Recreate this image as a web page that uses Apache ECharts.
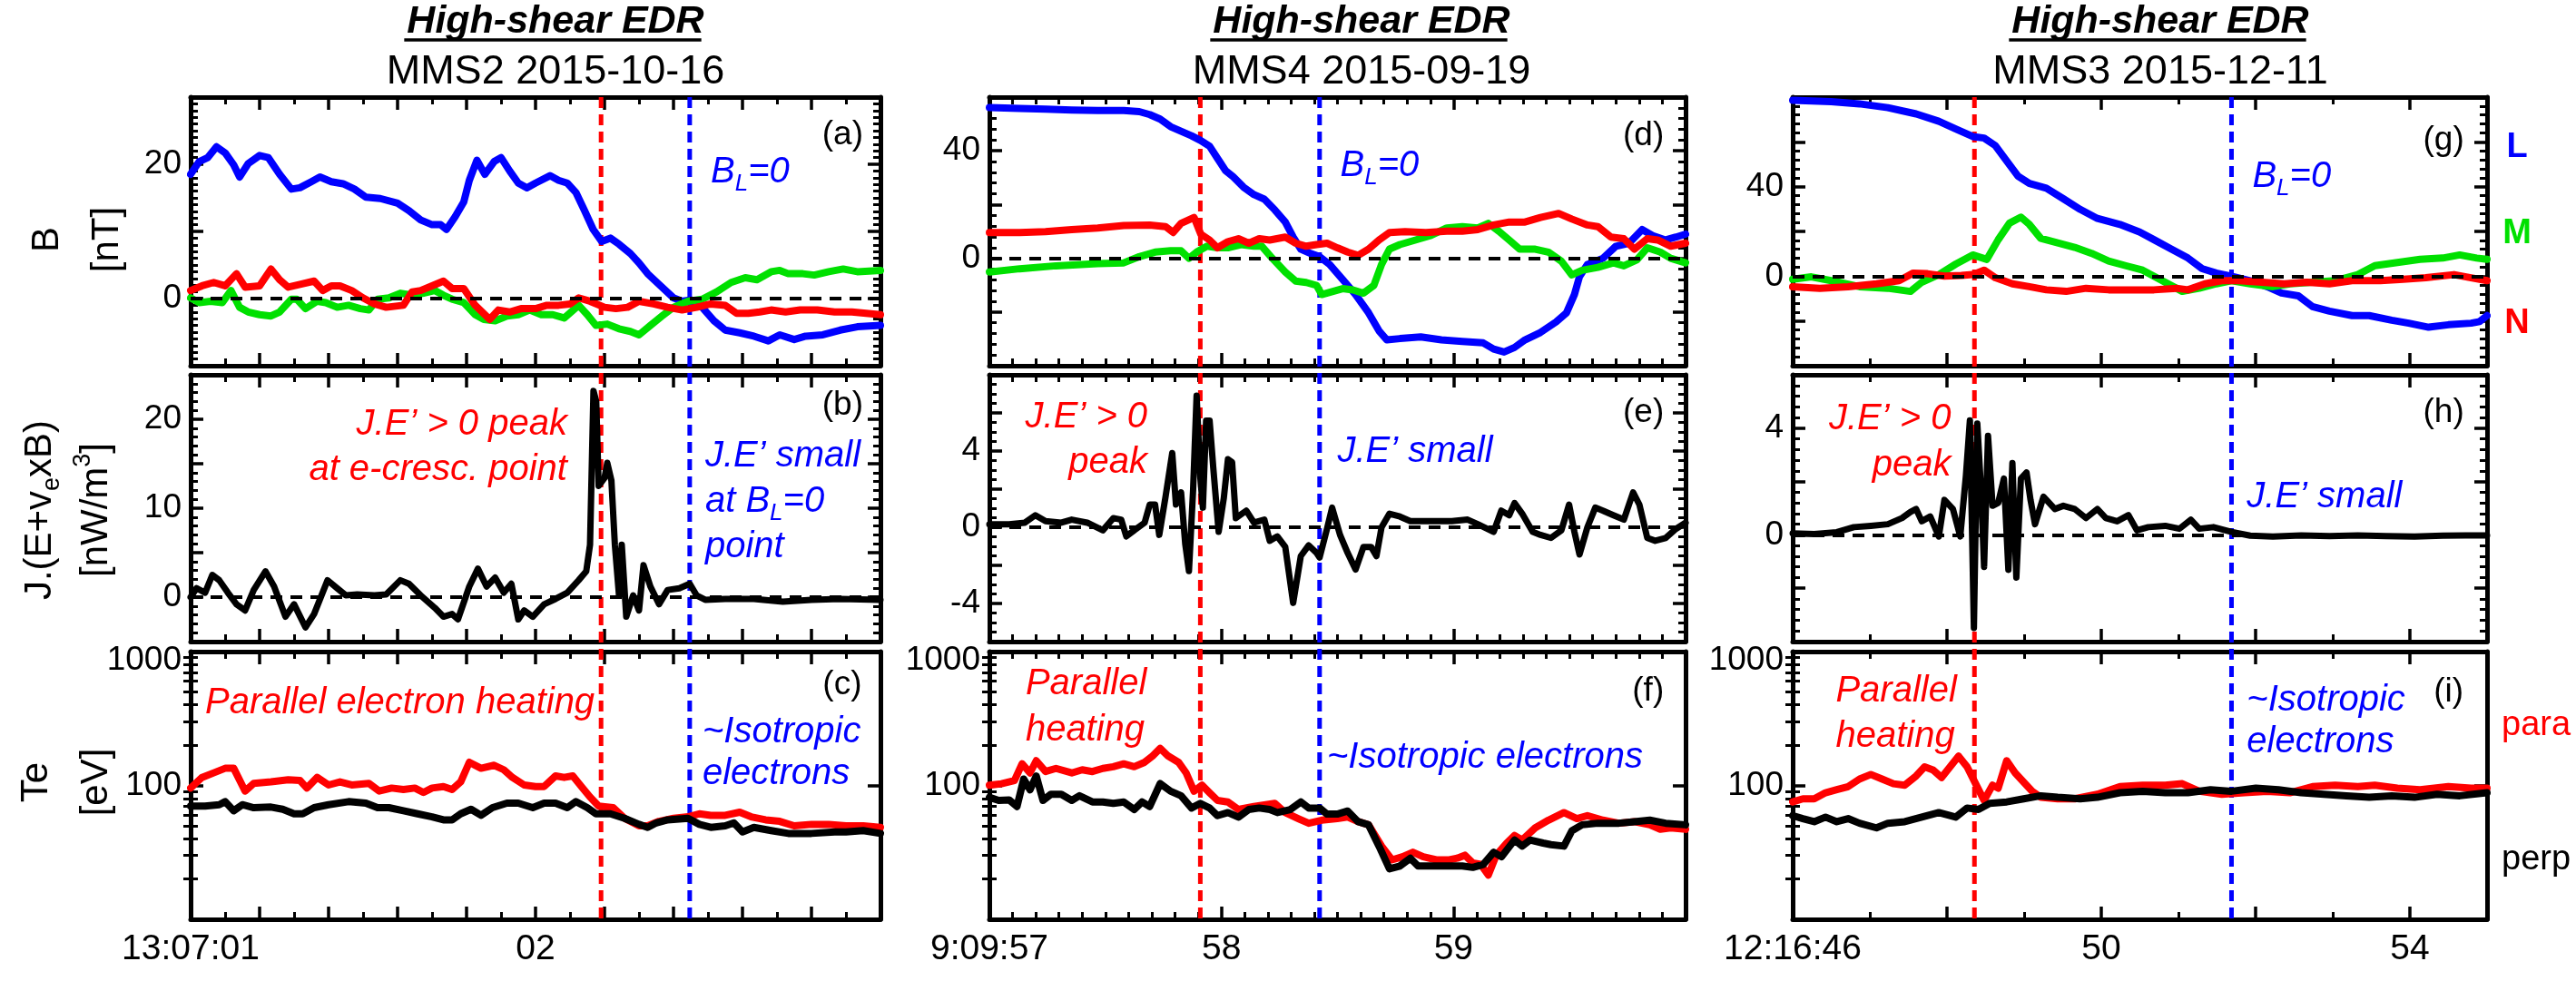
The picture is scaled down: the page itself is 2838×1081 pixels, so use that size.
<!DOCTYPE html>
<html><head><meta charset="utf-8">
<script src="https://cdn.jsdelivr.net/npm/echarts@6/dist/echarts.min.js"></script>
<style>html,body{margin:0;padding:0;background:#fff}#c{width:2838px;height:1081px}</style>
</head><body><div id="c"></div>
<script>
// ---------------- DATA (time in s from left tick) ----------------
// Column tick labels
const col1TickVals = [0, 1];       const col1TickLabels = ['13:07:01', '02'];
const col2TickVals = [0, 1, 2];    const col2TickLabels = ['9:09:57', '58', '59'];
const col3TickVals = [0, 4, 8];    const col3TickLabels = ['12:16:46', '50', '54'];
// vertical marker times [red, blue]
const col1Marks = [1.19, 1.447];
const col2Marks = [0.909, 1.423];
const col3Marks = [2.356, 5.688];
// y label values
const labelsA = [0, 20], labelsB = [0, 10, 20], labelsTe = [100, 1000];
const labelsD = [0, 40], labelsE = [-4, 0, 4], labelsG = [0, 40], labelsH = [0, 4];
const teMajor = [10, 100, 1000];
const teMinor = [20,30,40,50,60,70,80,90,200,300,400,500,600,700,800,900];

// Panel a: B (nT)
const aL = [[0,18.5],[0.025,20.4],[0.05,21.0],[0.075,22.6],[0.1,21.7],[0.125,19.9],[0.142,18.1],[0.167,20.1],[0.2,21.3],[0.225,21.0],[0.258,18.5],[0.292,16.3],[0.317,16.5],[0.35,17.4],[0.375,18.1],[0.408,17.4],[0.442,17.1],[0.475,16.3],[0.508,15.1],[0.55,14.9],[0.6,14.2],[0.633,13.1],[0.667,11.7],[0.7,11.0],[0.725,11.0],[0.742,10.3],[0.767,12.2],[0.792,14.4],[0.808,17.6],[0.83,20.6],[0.853,18.5],[0.88,20.4],[0.9,21.0],[0.925,19.0],[0.95,17.2],[0.975,16.5],[1.0,17.2],[1.042,18.3],[1.067,17.6],[1.092,17.2],[1.117,15.8],[1.142,13.1],[1.167,10.3],[1.192,8.5],[1.217,9.0],[1.242,8.1],[1.275,6.7],[1.3,5.3],[1.325,3.7],[1.358,2.1],[1.4,0.1],[1.425,-0.4],[1.45,-0.2],[1.483,-1.3],[1.517,-3.3],[1.55,-4.7],[1.592,-5.1],[1.633,-5.6],[1.675,-6.3],[1.708,-5.4],[1.75,-6.1],[1.783,-5.6],[1.833,-5.4],[1.883,-4.7],[1.933,-4.2],[2.0,-4.0]];
const aM = [[0,0.1],[0.025,-0.6],[0.058,-0.4],[0.092,-0.6],[0.117,1.2],[0.142,-1.3],[0.167,-2.0],[0.2,-2.4],[0.233,-2.6],[0.258,-2.0],[0.292,-0.1],[0.308,-0.1],[0.333,-1.5],[0.367,-0.4],[0.392,-0.6],[0.425,-1.3],[0.458,-1.0],[0.492,-1.5],[0.517,-1.7],[0.542,-0.1],[0.575,0.1],[0.608,0.8],[0.642,0.5],[0.675,0.8],[0.708,1.2],[0.733,0.5],[0.758,-0.1],[0.792,-0.6],[0.825,-2.4],[0.85,-3.1],[0.883,-3.3],[0.917,-2.6],[0.95,-2.4],[0.983,-1.7],[1.017,-2.4],[1.05,-2.4],[1.083,-2.9],[1.125,-1.0],[1.15,-2.4],[1.175,-4.0],[1.208,-3.8],[1.242,-4.5],[1.275,-4.9],[1.3,-5.4],[1.333,-4.0],[1.367,-2.6],[1.4,-1.3],[1.442,-0.4],[1.483,-0.1],[1.525,1.0],[1.567,2.4],[1.608,3.1],[1.642,2.8],[1.683,4.0],[1.708,4.2],[1.733,3.7],[1.775,3.7],[1.808,3.5],[1.85,4.0],[1.892,4.4],[1.933,4.0],[2.0,4.2]];
const aN = [[0,1.2],[0.033,1.9],[0.067,2.4],[0.1,1.9],[0.133,3.7],[0.158,1.7],[0.2,1.9],[0.233,4.4],[0.258,2.8],[0.283,1.7],[0.317,2.1],[0.358,2.6],[0.383,1.2],[0.408,1.9],[0.433,1.9],[0.467,1.2],[0.5,0.1],[0.533,-0.8],[0.567,-1.3],[0.617,-1.0],[0.642,1.0],[0.667,1.2],[0.7,1.9],[0.733,2.6],[0.758,1.5],[0.792,1.5],[0.825,-1.0],[0.867,-3.1],[0.892,-1.7],[0.925,-2.0],[0.958,-1.5],[1.0,-1.5],[1.033,-1.0],[1.067,-1.0],[1.1,-0.8],[1.125,0.1],[1.158,-0.4],[1.2,-1.3],[1.233,-1.5],[1.267,-1.3],[1.3,-0.4],[1.342,-0.8],[1.383,-1.3],[1.425,-1.7],[1.467,-1.3],[1.508,-0.8],[1.55,-1.0],[1.583,-2.2],[1.617,-2.2],[1.65,-2.0],[1.683,-1.7],[1.725,-2.0],[1.767,-1.7],[1.817,-1.7],[1.867,-2.0],[1.917,-2.0],[2.0,-2.4]];
// Panel b: J.E' (nW/m^3)
const bJ = [[0,0],[0.017,1.0],[0.042,0.5],[0.063,2.5],[0.083,1.9],[0.108,0.5],[0.133,-0.8],[0.158,-1.5],[0.183,0.8],[0.217,2.9],[0.242,1.2],[0.275,-2.2],[0.3,-0.8],[0.333,-3.4],[0.358,-1.9],[0.397,1.9],[0.425,1.0],[0.45,0.2],[0.483,0.3],[0.533,0.2],[0.567,0.3],[0.608,1.9],[0.633,1.5],[0.667,0.2],[0.708,-1.2],[0.733,-2.2],[0.758,-1.9],[0.775,-2.5],[0.808,1.2],[0.833,3.2],[0.858,1.2],[0.883,2.2],[0.908,0.5],[0.93,1.5],[0.95,-2.5],[0.967,-1.5],[0.992,-2.2],[1.025,-0.8],[1.058,-0.2],[1.092,0.5],[1.125,1.9],[1.147,2.9],[1.158,5.9],[1.168,23.2],[1.176,22.0],[1.183,12.5],[1.2,13.4],[1.208,15.1],[1.22,13.1],[1.23,5.9],[1.242,0.2],[1.25,5.9],[1.263,-2.2],[1.283,0.2],[1.3,-1.5],[1.313,3.6],[1.333,1.2],[1.358,-0.8],[1.383,0.8],[1.417,1.0],[1.447,1.5],[1.467,0.2],[1.492,-0.3],[1.55,-0.2],[1.633,-0.2],[1.717,-0.5],[1.8,-0.3],[1.883,-0.2],[2.0,-0.3]];
// Panel c: Te (eV)
const cPara = [[0,95.6],[0.033,114.8],[0.067,124.2],[0.1,134.3],[0.125,134.3],[0.158,90.8],[0.183,103.5],[0.233,106.3],[0.283,110.1],[0.317,108.9],[0.337,95.6],[0.367,114.8],[0.4,100.8],[0.433,106.3],[0.467,100.8],[0.517,103.5],[0.547,90.8],[0.583,95.6],[0.617,93.2],[0.65,95.6],[0.675,88.5],[0.7,95.6],[0.733,98.2],[0.758,93.2],[0.783,106.3],[0.808,148.9],[0.842,134.3],[0.88,141.5],[0.908,130.9],[0.933,114.8],[0.967,100.8],[1.0,98.2],[1.025,98.2],[1.058,117.8],[1.083,114.8],[1.108,117.8],[1.133,98.2],[1.158,81.9],[1.183,70.0],[1.225,68.2],[1.258,56.8],[1.3,49.9],[1.325,49.9],[1.358,53.9],[1.4,56.8],[1.442,58.3],[1.475,61.4],[1.508,59.8],[1.55,59.8],[1.592,63.1],[1.625,58.3],[1.667,55.3],[1.708,53.9],[1.75,49.9],[1.8,51.2],[1.85,51.2],[1.9,49.9],[1.95,49.9],[2.0,48.6]];
const cPerp = [[0,70.0],[0.042,70.0],[0.083,71.8],[0.1,75.7],[0.125,64.7],[0.15,71.8],[0.183,68.2],[0.233,68.9],[0.267,66.4],[0.3,61.4],[0.325,61.4],[0.358,68.2],[0.4,71.8],[0.458,75.7],[0.508,73.8],[0.542,68.2],[0.575,68.2],[0.617,64.7],[0.658,61.4],[0.7,58.3],[0.733,55.3],[0.758,55.3],[0.783,61.4],[0.813,66.4],[0.842,59.8],[0.875,68.2],[0.917,73.8],[0.95,73.8],[0.992,68.2],[1.025,73.8],[1.058,73.8],[1.092,68.2],[1.117,75.7],[1.15,68.2],[1.175,61.4],[1.217,61.4],[1.258,56.8],[1.3,51.2],[1.325,48.6],[1.35,52.5],[1.383,55.3],[1.442,56.8],[1.475,51.2],[1.508,48.6],[1.55,49.9],[1.575,52.5],[1.6,44.9],[1.633,48.6],[1.683,46.0],[1.733,43.8],[1.8,43.8],[1.867,44.9],[1.9,44.9],[1.95,46.0],[2.0,43.8]];
// Panel d
const dL = [[0,56.1],[0.13,55.8],[0.242,55.5],[0.355,55.2],[0.467,55.0],[0.579,55.0],[0.646,54.6],[0.691,53.5],[0.736,51.8],[0.781,49.0],[0.826,47.3],[0.871,45.6],[0.909,43.9],[0.949,41.7],[0.983,37.2],[1.017,32.7],[1.05,30.4],[1.095,26.5],[1.14,23.7],[1.185,22.0],[1.23,18.0],[1.275,13.5],[1.309,7.9],[1.342,3.4],[1.387,1.7],[1.423,0.6],[1.466,-2.3],[1.522,-7.9],[1.578,-13.5],[1.634,-20.3],[1.679,-27.0],[1.713,-30.4],[1.769,-29.9],[1.859,-29.3],[1.948,-30.4],[2.038,-31.0],[2.128,-31.5],[2.173,-33.8],[2.218,-34.9],[2.263,-33.2],[2.308,-30.4],[2.375,-27.6],[2.442,-23.7],[2.487,-20.3],[2.521,-13.5],[2.543,-6.8],[2.577,-2.3],[2.644,0.0],[2.7,4.5],[2.756,5.6],[2.813,10.7],[2.857,8.5],[2.914,6.8],[2.959,7.9],[3.0,9.0]];
const dM = [[0,-5.1],[0.13,-3.9],[0.287,-2.8],[0.467,-2.0],[0.579,-1.7],[0.646,0.6],[0.714,2.3],[0.781,2.8],[0.826,2.8],[0.86,0.0],[0.893,2.3],[0.938,4.5],[0.983,3.9],[1.028,3.9],[1.084,5.1],[1.14,4.5],[1.174,4.5],[1.219,0.0],[1.275,-5.1],[1.32,-8.5],[1.365,-9.0],[1.41,-10.1],[1.432,-13.5],[1.477,-12.4],[1.522,-11.3],[1.567,-11.8],[1.612,-13.0],[1.657,-10.1],[1.69,-2.3],[1.724,3.4],[1.769,5.1],[1.836,6.8],[1.903,8.5],[1.971,11.3],[2.038,11.8],[2.105,11.3],[2.15,13.0],[2.195,10.1],[2.24,6.8],[2.285,3.4],[2.352,3.4],[2.409,2.3],[2.465,-1.1],[2.51,-6.2],[2.554,-4.5],[2.622,-3.4],[2.689,-1.7],[2.734,-2.8],[2.79,-0.6],[2.835,3.9],[2.891,2.3],[2.936,0.0],[3.0,-1.7]];
const dN = [[0,9.6],[0.13,9.6],[0.242,9.9],[0.355,10.7],[0.467,11.3],[0.579,12.2],[0.691,12.4],[0.759,11.8],[0.792,9.6],[0.826,13.0],[0.882,15.2],[0.911,9.0],[0.949,6.8],[0.983,3.9],[1.028,6.2],[1.073,7.3],[1.118,5.6],[1.163,7.3],[1.208,6.8],[1.275,7.9],[1.32,5.6],[1.365,4.5],[1.41,5.1],[1.455,5.6],[1.499,3.9],[1.544,2.3],[1.589,1.1],[1.634,3.4],[1.679,6.8],[1.724,9.6],[1.791,9.9],[1.881,9.6],[1.971,10.1],[2.038,10.1],[2.105,10.7],[2.173,12.4],[2.24,13.5],[2.308,13.5],[2.375,15.2],[2.453,16.7],[2.51,14.6],[2.577,12.4],[2.622,11.8],[2.678,7.9],[2.734,7.3],[2.779,3.4],[2.835,7.3],[2.88,6.8],[2.936,4.5],[3.0,5.6]];
// Panel e
const eJ = [[0,0.16],[0.085,0.16],[0.153,0.24],[0.198,0.63],[0.242,0.32],[0.31,0.24],[0.355,0.4],[0.422,0.24],[0.489,-0.16],[0.534,0.48],[0.568,0.4],[0.59,-0.48],[0.624,-0.16],[0.669,0.24],[0.691,1.19],[0.714,1.19],[0.732,-0.4],[0.759,1.59],[0.788,3.89],[0.804,1.19],[0.826,1.83],[0.844,-0.87],[0.86,-2.3],[0.878,1.98],[0.893,6.9],[0.909,2.62],[0.92,1.03],[0.934,5.6],[0.949,5.6],[0.965,3.1],[0.988,-0.24],[1.01,1.51],[1.028,3.57],[1.046,3.41],[1.062,0.48],[1.107,0.87],[1.14,0.24],[1.185,0.4],[1.208,-0.71],[1.241,-0.48],[1.275,-1.03],[1.309,-3.97],[1.342,-1.51],[1.376,-0.95],[1.41,-1.35],[1.423,-1.59],[1.455,-0.08],[1.477,1.03],[1.511,-0.4],[1.544,-1.35],[1.578,-2.22],[1.612,-1.03],[1.645,-1.03],[1.668,-1.51],[1.69,0.0],[1.724,0.71],[1.769,0.56],[1.814,0.32],[1.903,0.32],[1.993,0.32],[2.061,0.4],[2.105,0.16],[2.173,-0.24],[2.206,0.87],[2.24,0.63],[2.263,1.27],[2.296,0.71],[2.341,-0.24],[2.375,-0.4],[2.42,-0.56],[2.465,-0.16],[2.498,1.19],[2.521,-0.24],[2.543,-1.43],[2.577,0.0],[2.611,1.03],[2.644,0.87],[2.689,0.63],[2.734,0.4],[2.774,1.83],[2.801,1.19],[2.835,-0.56],[2.869,-0.71],[2.914,-0.56],[2.959,-0.08],[3.0,0.24]];
// Panel f
const fPara = [[0,100.5],[0.052,103],[0.108,108.7],[0.141,145],[0.175,124],[0.202,153],[0.242,127],[0.287,134],[0.355,124],[0.4,131],[0.444,127],[0.489,134],[0.534,138],[0.579,145],[0.624,138],[0.669,149],[0.703,166],[0.736,189],[0.77,166],[0.815,149],[0.848,124],[0.882,90.5],[0.916,100.5],[0.949,88.2],[0.983,77.3],[1.028,75.3],[1.073,66.1],[1.14,69.6],[1.185,71.5],[1.23,73.4],[1.275,62.7],[1.331,56.5],[1.376,52.2],[1.432,55.0],[1.499,56.5],[1.544,58.0],[1.589,53.6],[1.634,50.8],[1.69,35.2],[1.735,27.8],[1.78,29.3],[1.825,31.7],[1.87,29.3],[1.926,27.8],[1.982,27.8],[2.016,28.6],[2.049,30.1],[2.083,26.4],[2.117,25.7],[2.15,21.4],[2.184,30.1],[2.229,37.1],[2.263,42.3],[2.296,39.1],[2.352,48.2],[2.409,55.0],[2.476,62.7],[2.532,56.5],[2.577,59.5],[2.644,55.0],[2.712,52.2],[2.779,53.6],[2.846,50.8],[2.891,47.0],[2.936,48.2],[3.0,47.0]];
const fPerp = [[0,81.5],[0.04,77.3],[0.085,78],[0.119,69.6],[0.148,111.6],[0.175,92.9],[0.202,117.7],[0.231,77.3],[0.265,85.9],[0.31,85.9],[0.355,77.3],[0.388,83.7],[0.444,75.3],[0.489,75.3],[0.534,73.4],[0.579,75.3],[0.624,66.1],[0.658,75.3],[0.691,69.6],[0.736,103.2],[0.781,90.5],[0.826,83.7],[0.871,67.8],[0.909,73.4],[0.949,67.8],[0.983,59.5],[1.028,62.7],[1.073,58.0],[1.118,66.1],[1.163,67.8],[1.208,66.1],[1.241,62.7],[1.297,66.1],[1.342,75.3],[1.376,67.8],[1.423,67.8],[1.455,61.1],[1.499,61.1],[1.544,64.4],[1.589,53.6],[1.634,50.8],[1.679,35.2],[1.724,23.8],[1.769,25.0],[1.814,28.6],[1.847,25.0],[1.903,25.0],[1.971,25.0],[2.038,25.0],[2.083,24.4],[2.128,25.7],[2.173,31.7],[2.207,29.3],[2.263,39.1],[2.296,35.2],[2.33,39.1],[2.386,37.1],[2.42,36.1],[2.476,35.2],[2.51,45.8],[2.554,50.8],[2.622,52.2],[2.712,52.2],[2.779,53.6],[2.846,55.0],[2.914,52.2],[3.0,50.8]];
// Panel g
const gL = [[0,78.6],[0.499,78.0],[0.866,77.0],[1.233,75.3],[1.6,72.5],[1.894,69.2],[2.114,65.8],[2.334,62.4],[2.481,61.7],[2.628,58.3],[2.774,51.5],[2.921,44.7],[3.068,41.4],[3.288,39.3],[3.508,34.6],[3.728,29.8],[3.949,25.8],[4.242,23.1],[4.499,19.7],[4.683,16.3],[4.903,12.2],[5.123,8.1],[5.306,3.4],[5.49,1.4],[5.688,0.0],[5.93,-2.0],[6.15,-4.7],[6.334,-7.5],[6.554,-8.8],[6.738,-13.6],[6.958,-15.6],[7.251,-17.6],[7.472,-17.6],[7.765,-19.7],[7.985,-21.0],[8.242,-22.8],[8.499,-21.7],[8.793,-21.0],[8.903,-20.3],[9.0,-17.6]];
const gM = [[0,-1.4],[0.242,-0.3],[0.499,-2.0],[0.866,-4.7],[1.233,-5.4],[1.527,-6.8],[1.673,-2.7],[1.894,0.7],[2.114,5.4],[2.334,9.5],[2.517,7.5],[2.664,16.3],[2.811,23.7],[2.958,26.4],[3.068,23.1],[3.215,16.9],[3.435,14.9],[3.655,12.9],[3.875,10.2],[4.095,6.8],[4.316,4.7],[4.536,2.7],[4.756,-1.4],[5.05,-6.8],[5.27,-5.4],[5.49,-3.4],[5.688,-2.0],[5.93,-3.4],[6.224,-4.7],[6.444,-3.4],[6.738,-2.7],[7.031,-2.0],[7.325,0.7],[7.545,4.7],[7.838,6.1],[8.132,7.5],[8.426,8.1],[8.646,9.5],[8.866,8.1],[9.0,7.5]];
const gN = [[0,-4.7],[0.352,-5.4],[0.719,-4.7],[1.086,-3.4],[1.38,-2.0],[1.563,1.4],[1.747,1.1],[1.967,0.0],[2.187,0.3],[2.334,0.7],[2.481,2.7],[2.628,-0.7],[2.848,-3.4],[3.068,-4.7],[3.288,-6.1],[3.545,-6.8],[3.802,-5.4],[4.095,-6.1],[4.389,-6.1],[4.683,-6.1],[4.976,-5.4],[5.123,-6.1],[5.343,-3.4],[5.563,-2.0],[5.783,-2.0],[6.077,-2.7],[6.371,-3.4],[6.664,-2.7],[6.958,-3.4],[7.251,-2.0],[7.618,-2.0],[7.912,-1.4],[8.206,-0.7],[8.572,0.7],[8.793,-0.7],[9.0,-2.0]];
// Panel h
const hJ = [[0,0.06],[0.279,0.03],[0.572,0.1],[0.793,0.29],[1.013,0.34],[1.233,0.4],[1.417,0.63],[1.527,0.86],[1.6,0.97],[1.673,0.51],[1.783,0.69],[1.894,-0.06],[1.967,1.31],[2.077,0.97],[2.172,-0.06],[2.246,2.23],[2.297,4.29],[2.349,-3.49],[2.393,4.17],[2.444,1.54],[2.481,-1.2],[2.532,3.71],[2.591,1.09],[2.664,1.2],[2.738,2.11],[2.796,-1.31],[2.848,2.69],[2.899,-1.6],[2.958,2.11],[3.031,2.34],[3.083,1.31],[3.141,0.4],[3.251,1.43],[3.398,0.97],[3.508,1.09],[3.655,0.97],[3.802,0.63],[3.949,0.97],[4.059,0.63],[4.206,0.51],[4.352,0.74],[4.462,0.17],[4.609,0.29],[4.829,0.34],[5.013,0.23],[5.16,0.57],[5.27,0.23],[5.453,0.29],[5.688,0.11],[5.93,-0.03],[6.224,-0.06],[6.591,-0.02],[6.958,-0.05],[7.325,-0.02],[7.692,-0.05],[8.059,-0.06],[8.426,-0.03],[8.719,-0.02],[9.0,-0.02]];
// Panel i
const iPara = [[0,75.3],[0.132,79.4],[0.279,79.4],[0.426,88.2],[0.572,92.9],[0.719,98.0],[0.866,111.6],[1.013,120.8],[1.16,111.6],[1.306,103.0],[1.453,100.5],[1.6,117.7],[1.71,137.7],[1.82,130.6],[1.93,114.6],[2.04,137.7],[2.15,165.5],[2.261,137.7],[2.371,103.0],[2.481,77.3],[2.591,100.5],[2.664,95.4],[2.774,153.0],[2.884,124.0],[3.031,100.5],[3.105,90.5],[3.215,81.5],[3.435,79.4],[3.655,79.4],[3.949,85.9],[4.242,98.0],[4.536,100.5],[4.829,100.5],[5.05,103.0],[5.27,90.5],[5.563,85.9],[5.857,88.2],[6.15,90.5],[6.444,88.2],[6.738,98.0],[7.031,100.5],[7.325,98.0],[7.545,100.5],[7.838,95.4],[8.132,92.9],[8.499,98.0],[8.793,95.4],[9.0,95.4]];
const iPerp = [[0,59.5],[0.132,56.5],[0.279,53.6],[0.426,58.0],[0.572,53.6],[0.719,56.5],[0.866,52.2],[1.086,48.2],[1.233,52.2],[1.453,53.6],[1.673,58.0],[1.894,62.7],[2.114,58.0],[2.261,67.8],[2.407,66.1],[2.554,73.4],[2.774,75.3],[2.994,79.4],[3.215,83.7],[3.435,81.5],[3.728,79.4],[3.949,81.5],[4.242,88.2],[4.536,90.5],[4.829,88.2],[5.123,88.2],[5.416,92.9],[5.688,90.5],[6.004,95.4],[6.297,92.9],[6.591,88.2],[6.884,85.9],[7.178,83.7],[7.472,81.5],[7.765,83.7],[8.059,81.5],[8.352,85.9],[8.646,83.7],[9.0,88.2]];

// ---------------- LAYOUT / STYLE ----------------
const FONT = 'Liberation Sans';
const BLUE = '#0000ff', GREEN = '#00e000', RED = '#ff0000', BLACK = '#000000';
const COLS = [{left: 210, width: 760}, {left: 1090, width: 767}, {left: 1975, width: 765}];
const ROWS = [{top: 107, height: 296}, {top: 413, height: 294}, {top: 718, height: 295}];
const XCFG = [
  {max: 2, interval: 0.2, minor: 2, vals: col1TickVals, labels: col1TickLabels, marks: col1Marks},
  {max: 3, interval: 1, minor: 10, vals: col2TickVals, labels: col2TickLabels, marks: col2Marks},
  {max: 9, interval: 2, minor: 2, vals: col3TickVals, labels: col3TickLabels, marks: col3Marks}
];
const panels = [
  {col:0,row:0,min:-10,max:30,interval:10,minor:10,labels:labelsA,zero:true,series:[[aL,BLUE],[aM,GREEN],[aN,RED]]},
  {col:0,row:1,min:-5,max:25,interval:5,minor:5,labels:labelsB,zero:true,series:[[bJ,BLACK]]},
  {col:0,row:2,log:true,labels:labelsTe,series:[[cPara,RED],[cPerp,BLACK]]},
  {col:1,row:0,min:-40,max:60,interval:20,minor:5,labels:labelsD,zero:true,series:[[dL,BLUE],[dM,GREEN],[dN,RED]]},
  {col:1,row:1,min:-6,max:8,interval:2,minor:4,labels:labelsE,zero:true,series:[[eJ,BLACK]]},
  {col:1,row:2,log:true,labels:labelsTe,series:[[fPara,RED],[fPerp,BLACK]]},
  {col:2,row:0,min:-40,max:80,interval:20,minor:5,labels:labelsG,zero:true,series:[[gL,BLUE],[gM,GREEN],[gN,RED]]},
  {col:2,row:1,min:-4,max:6,interval:2,minor:5,labels:labelsH,zero:true,series:[[hJ,BLACK]]},
  {col:2,row:2,log:true,labels:labelsTe,series:[[iPara,RED],[iPerp,BLACK]]}
];

const chart = echarts.init(document.getElementById('c'), null, {renderer: 'canvas', width: 2838, height: 1081});
const grids = [], xAxes = [], yAxes = [], series = [];
const xIdx = [], yIdx = [];
const axLine = {show: true, onZero: false, lineStyle: {color: BLACK, width: 5}};
const tickLS = {color: BLACK, width: 3.5};
const minLS = {color: BLACK, width: 3};

panels.forEach((p, gi) => {
  const c = COLS[p.col], r = ROWS[p.row], xc = XCFG[p.col];
  grids.push({left: c.left, top: r.top, width: c.width, height: r.height, show: false});
  const bx = {type: 'value', gridIndex: gi, min: 0, max: xc.max, interval: xc.interval,
    splitLine: {show: false}, axisLine: axLine,
    axisTick: {show: true, inside: true, length: 14, lineStyle: tickLS},
    minorTick: {show: true, splitNumber: xc.minor, length: 8, lineStyle: minLS}};
  xIdx.push(xAxes.length);
  xAxes.push(Object.assign({}, bx, {position: 'bottom',
    axisLabel: p.row === 2 ? {show: true, customValues: xc.vals, margin: 14, fontSize: 39, fontFamily: FONT, color: BLACK,
      formatter: v => { const k = xc.vals.indexOf(v); return k >= 0 ? xc.labels[k] : ''; }} : {show: false}}));
  xAxes.push(Object.assign({}, bx, {position: 'top', axisLabel: {show: false}}));
  yIdx.push(yAxes.length);
  const lab = {show: true, customValues: p.labels, margin: 10, fontSize: 37, fontFamily: FONT, color: BLACK,
    formatter: v => (p.log && v === 1000) ? '{t|1000}' : String(v),
    rich: {t: {fontSize: 37, fontFamily: FONT, color: BLACK, padding: [20, 0, 0, 0]}}};
  if (!p.log) {
    const by = {type: 'value', gridIndex: gi, min: p.min, max: p.max, interval: p.interval,
      splitLine: {show: false}, axisLine: axLine,
      axisTick: {show: true, inside: true, length: 14, lineStyle: tickLS},
      minorTick: {show: true, splitNumber: p.minor, length: 8, lineStyle: minLS}};
    yAxes.push(Object.assign({}, by, {position: 'left', axisLabel: lab}));
    yAxes.push(Object.assign({}, by, {position: 'right', axisLabel: {show: false}}));
  } else {
    const by = {type: 'log', logBase: 10, gridIndex: gi, min: 10, max: 1000, splitLine: {show: false}};
    yAxes.push(Object.assign({}, by, {position: 'left', axisLine: axLine, axisLabel: lab,
      axisTick: {show: true, inside: true, length: 14, customValues: teMajor, lineStyle: tickLS}}));
    yAxes.push(Object.assign({}, by, {position: 'left', axisLine: {show: false}, axisLabel: {show: false},
      axisTick: {show: true, inside: true, length: 8, customValues: teMinor, lineStyle: minLS}}));
    yAxes.push(Object.assign({}, by, {position: 'right', axisLine: axLine, axisLabel: {show: false},
      axisTick: {show: true, inside: true, length: 14, customValues: teMajor, lineStyle: tickLS}}));
    yAxes.push(Object.assign({}, by, {position: 'right', axisLine: {show: false}, axisLabel: {show: false},
      axisTick: {show: true, inside: true, length: 8, customValues: teMinor, lineStyle: minLS}}));
  }
  if (p.zero) {
    series.push({type: 'line', xAxisIndex: xIdx[gi], yAxisIndex: yIdx[gi], data: [], z: 2, silent: true,
      markLine: {silent: true, symbol: ['none', 'none'], label: {show: false}, animation: false,
        lineStyle: {color: BLACK, type: [13, 9], width: 4}, data: [{yAxis: 0}]}});
  }
  p.series.forEach(([d, col]) => {
    series.push({type: 'line', xAxisIndex: xIdx[gi], yAxisIndex: yIdx[gi], data: d, symbol: 'none', showSymbol: false,
      z: 3, silent: true, clip: true, lineStyle: {color: col, width: p.row === 1 ? 7 : 8, join: 'round', cap: 'round'}, itemStyle: {color: col}});
  });
});

chart.setOption({animation: false, textStyle: {fontFamily: FONT}, grid: grids, xAxis: xAxes, yAxis: yAxes, series: series});

// ---------------- GRAPHICS: texts and marker lines ----------------
const G = [];
const ctx = document.createElement('canvas').getContext('2d');
function txt(x, y, text, o) {
  o = o || {};
  G.push({type: 'text', x: x, y: y, rotation: o.rot || 0, z: 20, silent: true,
    style: Object.assign({text: text, fill: o.fill || BLACK, fontSize: o.size || 36, fontFamily: FONT,
      fontStyle: o.italic ? 'italic' : 'normal', fontWeight: o.bold ? 'bold' : 'normal',
      align: o.align || 'left', verticalAlign: 'middle'}, o.rich ? {rich: o.rich} : {})});
}
function richSet(size, italic, fill) {
  const base = {fontSize: size, fontFamily: FONT, fontStyle: italic ? 'italic' : 'normal', fill: fill, lineHeight: Math.round(size * 1.3)};
  return {m: base, s: {fontSize: Math.round(size * 0.65), fontFamily: FONT, fontStyle: italic ? 'italic' : 'normal', fill: fill, verticalAlign: 'bottom'},
          u: {fontSize: Math.round(size * 0.65), fontFamily: FONT, fontStyle: 'normal', fill: fill, verticalAlign: 'top'}};
}
// Titles
const titles = [['MMS2 2015-10-16', 612], ['MMS4 2015-09-19', 1500], ['MMS3 2015-12-11', 2380]];
titles.forEach(([sub, cx]) => {
  txt(cx, 24, 'High-shear EDR', {size: 43, bold: true, italic: true, align: 'center'});
  ctx.font = 'italic bold 43px "' + FONT + '"';
  const w = ctx.measureText('High-shear EDR').width;
  G.push({type: 'line', z: 20, silent: true, shape: {x1: cx - w / 2 - 3, y1: 44, x2: cx + w / 2 - 3, y2: 44}, style: {stroke: BLACK, lineWidth: 3.5}});
  txt(cx, 80, sub, {size: 45, align: 'center'});
});
// y-axis names (column 1)
const yn = richSet(42, false, BLACK);
txt(52, 264, 'B', {size: 42, rot: Math.PI / 2, align: 'center'});
txt(118, 264, '[nT]', {size: 42, rot: Math.PI / 2, align: 'center'});
txt(44, 562, '{m|J.(E+v}{s|e}{m|xB)}', {rot: Math.PI / 2, align: 'center', rich: yn});
txt(106, 562, '{m|[nW/m}{u|3}{m|]}', {rot: Math.PI / 2, align: 'center', rich: yn});
txt(40, 862, 'Te', {size: 42, rot: Math.PI / 2, align: 'center'});
txt(106, 862, '[eV]', {size: 42, rot: Math.PI / 2, align: 'center'});
// right-side legends
txt(2773, 163, 'L', {size: 38, bold: true, fill: BLUE, align: 'center'});
txt(2773, 258, 'M', {size: 38, bold: true, fill: GREEN, align: 'center'});
txt(2773, 357, 'N', {size: 38, bold: true, fill: RED, align: 'center'});
txt(2756, 800, 'para', {size: 38, fill: RED});
txt(2756, 948, 'perp', {size: 38, fill: BLACK});
// annotations [panel, text, fx, fy, align, color]
const rb = richSet(40, true, BLUE);
const annots = [
  [0, '{m|B}{s|L}{m|=0}', 0.754, 0.28, 'left', BLUE],
  [0, '(a)', 0.975, 0.14, 'right', BLACK],
  [1, 'J.E’ > 0 peak', 0.546, 0.187, 'right', RED],
  [1, 'at e-cresc. point', 0.546, 0.357, 'right', RED],
  [1, 'J.E’ small', 0.746, 0.306, 'left', BLUE],
  [1, '{m|at B}{s|L}{m|=0}', 0.746, 0.476, 'left', BLUE],
  [1, 'point', 0.746, 0.646, 'left', BLUE],
  [1, '(b)', 0.975, 0.115, 'right', BLACK],
  [2, 'Parallel electron heating', 0.021, 0.193, 'left', RED],
  [2, '~Isotropic', 0.742, 0.30, 'left', BLUE],
  [2, 'electrons', 0.742, 0.458, 'left', BLUE],
  [2, '(c)', 0.973, 0.125, 'right', BLACK],
  [3, '{m|B}{s|L}{m|=0}', 0.504, 0.257, 'left', BLUE],
  [3, '(d)', 0.969, 0.145, 'right', BLACK],
  [4, 'J.E’ > 0', 0.227, 0.16, 'right', RED],
  [4, 'peak', 0.227, 0.33, 'right', RED],
  [4, 'J.E’ small', 0.5, 0.29, 'left', BLUE],
  [4, '(e)', 0.969, 0.143, 'right', BLACK],
  [5, 'Parallel', 0.052, 0.12, 'left', RED],
  [5, 'heating', 0.052, 0.295, 'left', RED],
  [5, '~Isotropic electrons', 0.485, 0.397, 'left', BLUE],
  [5, '(f)', 0.969, 0.149, 'right', BLACK],
  [6, '{m|B}{s|L}{m|=0}', 0.662, 0.297, 'left', BLUE],
  [6, '(g)', 0.967, 0.162, 'right', BLACK],
  [7, 'J.E’ > 0', 0.228, 0.167, 'right', RED],
  [7, 'peak', 0.228, 0.34, 'right', RED],
  [7, 'J.E’ small', 0.654, 0.46, 'left', BLUE],
  [7, '(h)', 0.967, 0.143, 'right', BLACK],
  [8, 'Parallel', 0.062, 0.149, 'left', RED],
  [8, 'heating', 0.062, 0.319, 'left', RED],
  [8, '~Isotropic', 0.654, 0.183, 'left', BLUE],
  [8, 'electrons', 0.654, 0.34, 'left', BLUE],
  [8, '(i)', 0.966, 0.153, 'right', BLACK]
];
annots.forEach(([pi, t, fx, fy, al, col]) => {
  const p = panels[pi], c = COLS[p.col], r = ROWS[p.row];
  const x = c.left + fx * c.width, y = r.top + fy * r.height;
  const isLabel = t.charAt(0) === '(';
  if (t.indexOf('{') >= 0) txt(x, y, t, {align: al, rich: rb});
  else txt(x, y, t, {size: isLabel ? 37 : 40, italic: !isLabel, fill: col, align: al});
});
// vertical dashed markers spanning each column
[0, 1, 2].forEach(ci => {
  const top = ROWS[0].top, bot = ROWS[2].top + ROWS[2].height;
  const gi = ci * 3;
  XCFG[ci].marks.forEach((t, k) => {
    const px = chart.convertToPixel({xAxisIndex: xIdx[gi]}, t);
    G.push({type: 'line', z: 1, silent: true, shape: {x1: px, y1: top, x2: px, y2: bot},
      style: {stroke: k === 0 ? RED : BLUE, lineWidth: 5, lineDash: [12, 7]}});
  });
});
chart.setOption({graphic: {elements: G}});
</script></body></html>
